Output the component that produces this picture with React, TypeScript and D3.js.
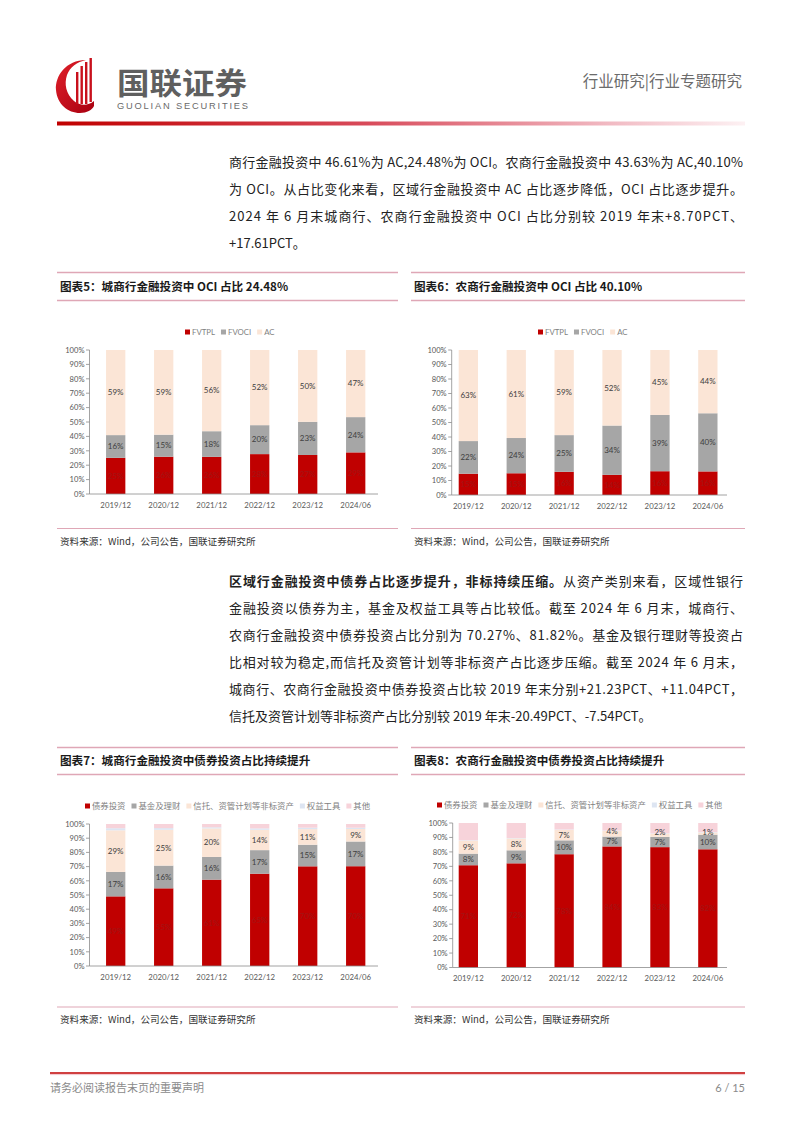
import React from 'react';
import * as d3 from 'd3';

// ---------- DATA ----------
const categories = ['2019/12', '2020/12', '2021/12', '2022/12', '2023/12', '2024/06'];

// 图表5 城商行 (FVTPL / FVOCI / AC, %)
const cityFVTPL = [25.12, 25.9, 25.8, 27.7, 27.1, 28.91];
const cityFVOCI = [15.78, 15.3, 17.8, 20.1, 23.0, 24.48];
const cityAC = [59.1, 58.8, 56.4, 52.2, 49.9, 46.61];

// 图表6 农商行
const ruralFVTPL = [14.7, 15.0, 16.0, 13.9, 16.4, 16.27];
const ruralFVOCI = [22.49, 24.3, 25.3, 34.0, 38.8, 40.1];
const ruralAC = [62.81, 60.7, 58.7, 52.1, 44.8, 43.63];

// 图表7 城商行 asset classes
const cityBond = [49.04, 54.7, 60.8, 65.0, 70.2, 70.27];
const cityFund = [17.2, 16.0, 16.0, 16.6, 15.2, 17.4];
const cityTrust = [29.3, 25.2, 20.1, 14.3, 11.0, 8.81];
const cityEquity = [1.5, 1.2, 0.8, 1.0, 1.0, 0.9];
const cityOther = [2.96, 2.9, 2.3, 3.1, 2.6, 2.62];

// 图表8 农商行 asset classes
const ruralBond = [70.78, 72.1, 78.4, 83.8, 83.3, 81.82];
const ruralFund = [8.0, 9.0, 9.6, 6.8, 7.1, 10.1];
const ruralTrust = [9.0, 8.2, 7.2, 3.9, 2.1, 1.46];
const ruralEquity = [0.3, 0.3, 0.3, 0.3, 0.3, 0.3];
const ruralOther = [11.92, 10.4, 4.5, 5.2, 7.2, 6.32];

const ociKeys = ['FVTPL', 'FVOCI', 'AC'];
const assetKeys = ['债券投资', '基金及理财', '信托、资管计划等非标资产', '权益工具', '其他'];
const yTicks = [0, 10, 20, 30, 40, 50, 60, 70, 80, 90, 100];

// ---------- STYLE ----------
const RED = '#c00000';
const GREY = '#a6a6a6';
const PEACH = '#fbe5d6';
const EQUITY = '#dde5f2';
const PINK = '#f7d3da';
const CJK = '"Noto Sans CJK SC", "Noto Sans", sans-serif';
const LAT = 'Lato, "Noto Sans", sans-serif';
const LINE_PINK = '#dfa7b6';

let _ctx: CanvasRenderingContext2D | null = null;
function measure(text: string, font: string): number {
  if (!_ctx) _ctx = document.createElement('canvas').getContext('2d');
  if (!_ctx) return text.length * 8;
  _ctx.font = font;
  return _ctx.measureText(text).width;
}

interface Layout {
  axisX: number;
  axisEnd: number;
  bandStart: number;
  step: number;
  barW: number;
  y0: number;
  y1: number;
  catY: number;
  legendY: number;
  legendX: number;
  legendFont: number;
  legendFamily: string;
  legendGap: number;
}

function StackedChart({
  keys,
  colors,
  labelKeys,
  labelColors,
  rows,
  layout,
}: {
  keys: string[];
  colors: string[];
  labelKeys: string[];
  labelColors: string[];
  rows: Record<string, any>[];
  layout: Layout;
}) {
  const L = layout;
  const y = d3.scaleLinear().domain([0, 100]).range([L.y0, L.y1]);
  const p = 1 - L.barW / L.step;
  const x = d3
    .scaleBand<string>()
    .domain(categories)
    .range([L.bandStart, L.bandStart + L.step * categories.length])
    .paddingInner(p)
    .paddingOuter(p / 2);
  const stacked = d3.stack<Record<string, any>>().keys(keys)(rows);

  // data labels, pushed apart when segments are thin
  const labels: { key: string; x: number; y: number; text: string; color: string }[] = [];
  categories.forEach((c, i) => {
    let prevY = Infinity;
    stacked.forEach((s, si) => {
      if (!labelKeys.includes(keys[si])) return;
      const d = s[i];
      let ly = (y(d[0]) + y(d[1])) / 2;
      if (prevY - ly < 9.8) ly = prevY - 9.8;
      prevY = ly;
      labels.push({
        key: `${si}-${i}`,
        x: (x(c) as number) + x.bandwidth() / 2,
        y: ly,
        text: `${Math.round(d[1] - d[0])}%`,
        color: labelColors[si],
      });
    });
  });

  // legend flow
  const legendFontStr = `${L.legendFont}px ${L.legendFamily}`;
  let lx = L.legendX;
  const legendItems = keys.map((k, i) => {
    const item = { k, x: lx, color: colors[i] };
    lx += 5 + 2 + measure(k, legendFontStr) + L.legendGap;
    return item;
  });

  return (
    <g>
      {stacked.map((s, si) =>
        s.map((d, i) => (
          <rect
            key={`${si}-${i}`}
            x={x(categories[i])}
            y={y(d[1])}
            width={x.bandwidth()}
            height={Math.max(0, y(d[0]) - y(d[1]))}
            fill={colors[si]}
          />
        ))
      )}
      {labels.map((l) => (
        <text key={l.key} x={l.x} y={l.y + 2.8} textAnchor="middle" fontSize={8} fontFamily={LAT} fill={l.color}>
          {l.text}
        </text>
      ))}
      {/* y axis */}
      <line x1={L.axisX} x2={L.axisX} y1={L.y1} y2={L.y0} stroke="#8c8c8c" strokeWidth={0.8} />
      {yTicks.map((t) => (
        <g key={t}>
          <line x1={L.axisX - 3.5} x2={L.axisX} y1={y(t)} y2={y(t)} stroke="#8c8c8c" strokeWidth={0.8} />
          <text x={L.axisX - 5} y={y(t) + 2.7} textAnchor="end" fontSize={7.6} fontFamily={LAT} fill="#595959">
            {t}%
          </text>
        </g>
      ))}
      {/* x axis */}
      <line x1={L.axisX} x2={L.axisEnd} y1={L.y0} y2={L.y0} stroke="#8c8c8c" strokeWidth={0.8} />
      {categories.map((c) => (
        <text
          key={c}
          x={(x(c) as number) + x.bandwidth() / 2}
          y={L.catY + 2.8}
          textAnchor="middle"
          fontSize={7.8}
          fontFamily={LAT}
          fill="#595959"
        >
          {c}
        </text>
      ))}
      {/* legend */}
      {legendItems.map((it) => (
        <g key={it.k}>
          <rect x={it.x} y={L.legendY - 2.5} width={5} height={5} fill={it.color} />
          <text x={it.x + 7} y={L.legendY + 2.7} fontSize={L.legendFont} fontFamily={L.legendFamily} fill="#7f7f7f">
            {it.k}
          </text>
        </g>
      ))}
    </g>
  );
}

function ChartFrame({
  x1,
  x2,
  top,
  bottom,
  sourceLineY,
  title,
}: {
  x1: number;
  x2: number;
  top: number;
  bottom: number;
  sourceLineY: number;
  title: string;
}) {
  return (
    <g>
      <line x1={x1} x2={x2} y1={top} y2={top} stroke={LINE_PINK} strokeWidth={1.3} />
      <text x={x1 + 3} y={(top + bottom) / 2 + 4.3} fontSize={11.6} fontWeight="bold" fontFamily={CJK} fill="#1a1a1a">
        {title}
      </text>
      <line x1={x1} x2={x2} y1={bottom} y2={bottom} stroke={LINE_PINK} strokeWidth={1.3} />
      <line x1={x1} x2={x2} y1={sourceLineY} y2={sourceLineY} stroke={LINE_PINK} strokeWidth={1} />
      <text x={x1 + 3} y={sourceLineY + 16} fontSize={9.6} fontFamily={CJK} fill="#333">
        资料来源：Wind，公司公告，国联证券研究所
      </text>
    </g>
  );
}

function Para({ lines, y0, justifyCount }: { lines: React.ReactNode[]; y0: number; justifyCount: number }) {
  return (
    <g>
      {lines.map((ln, i) => (
        <text
          key={i}
          x={229}
          y={y0 + i * 27}
          fontSize={13}
          fontFamily={CJK}
          fill="#222"
          {...(i < justifyCount ? { textLength: 514, lengthAdjust: 'spacing' } : {})}
        >
          {ln}
        </text>
      ))}
    </g>
  );
}

export default function App() {
  const rows5 = categories.map((c, i) => ({ cat: c, FVTPL: cityFVTPL[i], FVOCI: cityFVOCI[i], AC: cityAC[i] }));
  const rows6 = categories.map((c, i) => ({ cat: c, FVTPL: ruralFVTPL[i], FVOCI: ruralFVOCI[i], AC: ruralAC[i] }));
  const rows7 = categories.map((c, i) => ({
    cat: c,
    [assetKeys[0]]: cityBond[i],
    [assetKeys[1]]: cityFund[i],
    [assetKeys[2]]: cityTrust[i],
    [assetKeys[3]]: cityEquity[i],
    [assetKeys[4]]: cityOther[i],
  }));
  const rows8 = categories.map((c, i) => ({
    cat: c,
    [assetKeys[0]]: ruralBond[i],
    [assetKeys[1]]: ruralFund[i],
    [assetKeys[2]]: ruralTrust[i],
    [assetKeys[3]]: ruralEquity[i],
    [assetKeys[4]]: ruralOther[i],
  }));

  const ociColors = [RED, GREY, PEACH];
  const assetColors = [RED, GREY, PEACH, EQUITY, PINK];
  const lblRed = '#a31515';
  const lblDark = '#404040';

  const baseLeft = { axisEnd: 378, bandStart: 91.7, step: 48, barW: 19.3 };
  const baseRight = { axisEnd: 727, bandStart: 444.4, step: 47.9, barW: 19.3 };

  return (
    <svg width={802} height={1133} style={{ position: 'absolute', left: 0, top: 0, background: '#fff' }}>
      <defs>
        <linearGradient id="hdr" x1="0" x2="1" y1="0" y2="0">
          <stop offset="0" stopColor="#c00000" />
          <stop offset="0.45" stopColor="#d84a5a" />
          <stop offset="0.8" stopColor="#f1b9c2" />
          <stop offset="1" stopColor="#fdf1f3" />
        </linearGradient>
        <linearGradient id="logoG" x1="0" x2="1" y1="0" y2="1">
          <stop offset="0" stopColor="#e0202a" />
          <stop offset="1" stopColor="#a80010" />
        </linearGradient>
      </defs>
      <rect width={802} height={1133} fill="#fff" />

      {/* ---------- header ---------- */}
      <g>
        <path
          d="M86,60 C66,60 55,76 56,90 C57,104 68,113 80,113 C87,113 92,110 94,106 L94,101 C88,106 80,106 74,101 C66,94 64,84 67,75 C70,67 77,62 86,60 Z"
          fill="url(#logoG)"
        />
        <rect x={76} y={72} width={2.4} height={32} fill="#c8101c" />
        <rect x={80.5} y={66} width={2.4} height={38} fill="#c8101c" />
        <rect x={85} y={62} width={2.4} height={42} fill="#c8101c" />
        <rect x={89.5} y={58} width={2.4} height={44} fill="#c8101c" />
        <text x={117} y={93.5} fontSize={29.5} fontWeight="bold" fontFamily={CJK} fill="#5f5f5f" textLength={130} lengthAdjust="spacingAndGlyphs">
          国联证券
        </text>
        <text x={117} y={109} fontSize={9.3} fontFamily={'"Liberation Sans", Arial, sans-serif'} fill="#6a6a6a" textLength={131} lengthAdjust="spacing">
          GUOLIAN SECURITIES
        </text>
        <text x={742} y={87} textAnchor="end" fontSize={15.5} fontFamily={CJK} fill="#6b6b6b">
          行业研究|行业专题研究
        </text>
        <rect x={57} y={121.5} width={688} height={4} fill="url(#hdr)" />
      </g>

      {/* ---------- paragraph 1 ---------- */}
      <Para
        y0={167}
        justifyCount={3}
        lines={[
          '商行金融投资中 46.61%为 AC,24.48%为 OCI。农商行金融投资中 43.63%为 AC,40.10%',
          '为 OCI。从占比变化来看，区域行金融投资中 AC 占比逐步降低，OCI 占比逐步提升。',
          '2024 年 6 月末城商行、农商行金融投资中 OCI 占比分别较 2019 年末+8.70PCT、',
          '+17.61PCT。',
        ]}
      />

      {/* ---------- charts 5 & 6 ---------- */}
      <ChartFrame x1={57} x2={398} top={272.5} bottom={300.5} sourceLineY={528.5} title="图表5：城商行金融投资中 OCI 占比 24.48%" />
      <ChartFrame x1={411} x2={745} top={272.5} bottom={300.5} sourceLineY={528.5} title="图表6：农商行金融投资中 OCI 占比 40.10%" />

      <StackedChart
        keys={ociKeys}
        colors={ociColors}
        labelKeys={ociKeys}
        labelColors={[lblRed, lblDark, lblDark]}
        rows={rows5}
        layout={{ ...baseLeft, axisX: 89.5, y0: 494, y1: 350, catY: 505, legendY: 332, legendX: 185, legendFont: 7.8, legendFamily: LAT, legendGap: 6 }}
      />
      <StackedChart
        keys={ociKeys}
        colors={ociColors}
        labelKeys={ociKeys}
        labelColors={[lblRed, lblDark, lblDark]}
        rows={rows6}
        layout={{ ...baseRight, axisX: 451.7, y0: 495, y1: 350, catY: 506, legendY: 332, legendX: 538, legendFont: 7.8, legendFamily: LAT, legendGap: 6 }}
      />

      {/* ---------- paragraph 2 ---------- */}
      <Para
        y0={586}
        justifyCount={5}
        lines={[
          <>
            <tspan fontWeight="bold">区域行金融投资中债券占比逐步提升，非标持续压缩。</tspan>
            <tspan>从资产类别来看，区域性银行</tspan>
          </>,
          '金融投资以债券为主，基金及权益工具等占比较低。截至 2024 年 6 月末，城商行、',
          '农商行金融投资中债券投资占比分别为 70.27%、81.82%。基金及银行理财等投资占',
          '比相对较为稳定,而信托及资管计划等非标资产占比逐步压缩。截至 2024 年 6 月末，',
          '城商行、农商行金融投资中债券投资占比较 2019 年末分别+21.23PCT、+11.04PCT，',
          '信托及资管计划等非标资产占比分别较 2019 年末-20.49PCT、-7.54PCT。',
        ]}
      />

      {/* ---------- charts 7 & 8 ---------- */}
      <ChartFrame x1={57} x2={398} top={747.5} bottom={774.5} sourceLineY={1007} title="图表7：城商行金融投资中债券投资占比持续提升" />
      <ChartFrame x1={411} x2={745} top={747.5} bottom={774.5} sourceLineY={1007} title="图表8：农商行金融投资中债券投资占比持续提升" />

      <StackedChart
        keys={assetKeys}
        colors={assetColors}
        labelKeys={assetKeys.slice(0, 3)}
        labelColors={[lblRed, lblDark, lblDark, lblDark, lblDark]}
        rows={rows7}
        layout={{ ...baseLeft, axisX: 89.5, y0: 966, y1: 824, catY: 977, legendY: 806, legendX: 85, legendFont: 8.4, legendFamily: CJK, legendGap: 6 }}
      />
      <StackedChart
        keys={assetKeys}
        colors={assetColors}
        labelKeys={assetKeys.slice(0, 3)}
        labelColors={[lblRed, lblDark, lblDark, lblDark, lblDark]}
        rows={rows8}
        layout={{ ...baseRight, axisX: 452.7, y0: 967.5, y1: 823, catY: 978, legendY: 805, legendX: 437, legendFont: 8.4, legendFamily: CJK, legendGap: 6 }}
      />

      {/* ---------- footer ---------- */}
      <line x1={50} x2={745} y1={1073} y2={1073} stroke="#c00000" strokeWidth={1.6} />
      <line x1={50} x2={745} y1={1074.6} y2={1074.6} stroke="#f0b8c0" strokeWidth={0.8} />
      <text x={50} y={1092} fontSize={11} fontFamily={CJK} fill="#8a8a8a">
        请务必阅读报告末页的重要声明
      </text>
      <text x={745} y={1092} textAnchor="end" fontSize={11} fontFamily={LAT} fill="#8a8a8a">
        6 / 15
      </text>
    </svg>
  );
}
